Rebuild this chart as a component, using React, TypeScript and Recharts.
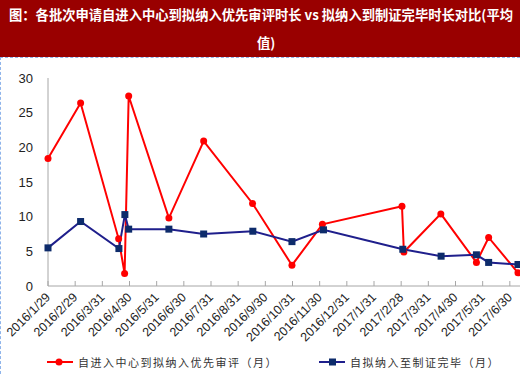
import { LineChart, Line, XAxis, YAxis, Legend } from "recharts";

// x positions are month offsets from 2016/1/29 (one unit per axis tick)
const tickLabels = [
  "2016/1/29", "2016/2/29", "2016/3/31", "2016/4/30", "2016/5/31", "2016/6/30",
  "2016/7/31", "2016/8/31", "2016/9/30", "2016/10/31", "2016/11/30", "2016/12/31",
  "2017/1/31", "2017/2/28", "2017/3/31", "2017/4/30", "2017/5/31", "2017/6/30",
];
const tickIndex = tickLabels.map((_, i) => i);

const reviewMonths = [0, 1.2, 2.6, 2.82, 2.97, 4.45, 5.73, 7.53, 8.98, 10.1, 13.03, 13.1, 14.46, 15.77, 16.22, 17.3];
const reviewValues = [18.4, 26.4, 6.8, 1.8, 27.4, 9.8, 20.9, 11.9, 3.0, 8.9, 11.5, 4.9, 10.4, 3.4, 7.0, 1.9];

const certMonths = [0, 1.2, 2.61, 2.83, 2.97, 4.45, 5.73, 7.54, 8.98, 10.14, 13.06, 14.47, 15.77, 16.22, 17.3];
const certValues = [5.5, 9.3, 5.4, 10.3, 8.2, 8.2, 7.5, 7.9, 6.4, 8.1, 5.3, 4.3, 4.5, 3.4, 3.1];

const yTicks = [0, 5, 10, 15, 20, 25, 30];

const titleLine1 = "图：各批次申请自进入中心到拟纳入优先审评时长 vs 拟纳入到制证完毕时长对比(平均";
const titleLine2 = "值)";
const reviewName = "自进入中心到拟纳入优先审评（月）";
const certName = "自拟纳入至制证完毕（月）";

const reviewData = reviewMonths.map((m, i) => ({ m, v: reviewValues[i] }));
const certData = certMonths.map((m, i) => ({ m, v: certValues[i] }));

const RED = "#ff0000";
const NAVY_LINE = "#1f1f8c";
const NAVY_DOT = "#0d2b6b";
const AXIS = "#a6a6a6";

function DateTick(props: any) {
  const { x, y, payload } = props;
  const ax = x + 3;
  const ay = y + 12;
  return (
    <g>
      <line x1={x} y1={y - 5} x2={x} y2={y} stroke={AXIS} />
      <text x={ax} y={ay} transform={`rotate(-45 ${ax} ${ay})`} textAnchor="end" fontSize={12.5} fill="#222">
        {tickLabels[payload.value]}
      </text>
    </g>
  );
}

function SquareDot(props: any) {
  const { cx, cy } = props;
  if (cx == null || cy == null) return null;
  return <rect x={cx - 3.5} y={cy - 3.5} width={7} height={7} fill={NAVY_DOT} />;
}

function LegendBox() {
  const text = { fontFamily: "'Noto Sans CJK SC'", fontSize: 11, letterSpacing: 1.5, color: "#333" };
  return (
    <div style={{ position: "relative", width: 520, height: 20 }}>
      <div style={{ position: "absolute", left: 47, top: 0, display: "flex", alignItems: "center", height: 20 }}>
        <svg width={26} height={10}>
          <line x1={0} y1={5} x2={26} y2={5} stroke={RED} strokeWidth={2} />
          <circle cx={12} cy={5} r={3.5} fill={RED} />
        </svg>
        <span style={{ ...text, marginLeft: 5 }}>{reviewName}</span>
      </div>
      <div style={{ position: "absolute", left: 319, top: 0, display: "flex", alignItems: "center", height: 20 }}>
        <svg width={26} height={10}>
          <line x1={0} y1={5} x2={26} y2={5} stroke={NAVY_LINE} strokeWidth={2} />
          <rect x={10} y={1.5} width={7} height={7} fill={NAVY_DOT} />
        </svg>
        <span style={{ ...text, marginLeft: 5 }}>{certName}</span>
      </div>
    </div>
  );
}

export default function App() {
  return (
    <div style={{ position: "fixed", left: 0, top: 0, width: 520, height: 374, overflow: "hidden", background: "#fff" }}>
      <div
        style={{
          position: "absolute", left: 0, top: 0, width: 520, height: 57, background: "#990000",
          color: "#fff", fontFamily: "'Noto Sans CJK SC'", fontWeight: 700, fontSize: 13.3,
        }}
      >
        <div style={{ position: "absolute", left: 9, top: 5, whiteSpace: "nowrap", lineHeight: "20px" }}>
          {titleLine1}
        </div>
        <div style={{ position: "absolute", left: 257, top: 33, whiteSpace: "nowrap", lineHeight: "20px" }}>
          {titleLine2}
        </div>
      </div>
      <div
        style={{
          position: "absolute", left: 0, top: 57, width: 520, height: 317,
          borderTop: "1px dashed #8fb4ea", borderLeft: "1px dashed #8fb4ea", boxSizing: "border-box",
        }}
      />
      <div style={{ position: "absolute", left: 0, top: 58 }}>
        <LineChart
          width={540}
          height={316}
          margin={{ top: 20, right: 3, left: 0, bottom: 27 }}
          style={{ fontFamily: "'Liberation Sans', Arial, sans-serif" }}
        >
          <XAxis
            dataKey="m"
            type="number"
            domain={[0, 18]}
            ticks={tickIndex}
            interval={0}
            height={61}
            tickLine={false}
            tickSize={0}
            tickMargin={0}
            axisLine={{ stroke: AXIS }}
            tick={<DateTick />}
            allowDuplicatedCategory={false}
          />
          <YAxis
            type="number"
            domain={[0, 30]}
            ticks={yTicks}
            width={48}
            tickLine={false}
            tickSize={0}
            tickMargin={15}
            axisLine={{ stroke: AXIS }}
            tick={{ fontSize: 13, fill: "#222" }}
          />
          <Legend
            layout="horizontal"
            verticalAlign="middle"
            align="center"
            content={() => <LegendBox />}
            wrapperStyle={{ left: 0, top: 294, width: 520, height: 20 }}
          />
          <Line
            data={reviewData}
            dataKey="v"
            name={reviewName}
            stroke={RED}
            strokeWidth={2}
            dot={{ r: 3.5, fill: RED, stroke: RED, strokeWidth: 0 }}
            activeDot={false}
            isAnimationActive={false}
          />
          <Line
            data={certData}
            dataKey="v"
            name={certName}
            stroke={NAVY_LINE}
            strokeWidth={2}
            dot={(p: any) => <SquareDot key={p.index} {...p} />}
            activeDot={false}
            isAnimationActive={false}
          />
        </LineChart>
      </div>
    </div>
  );
}
